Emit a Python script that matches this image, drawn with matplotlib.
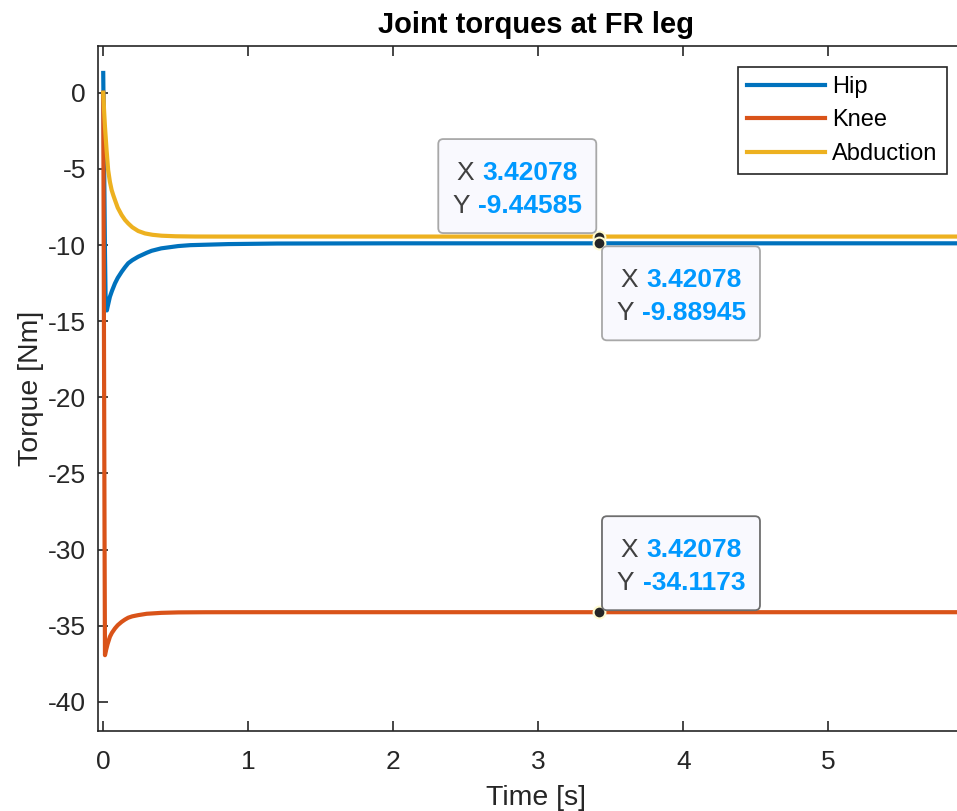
import matplotlib
matplotlib.use('Agg')
import matplotlib.pyplot as plt
import matplotlib.transforms as mtransforms
from matplotlib.patches import FancyBboxPatch
from matplotlib.offsetbox import TextArea, HPacker, VPacker, AnnotationBbox

plt.rcParams['font.family'] = ['Liberation Sans', 'DejaVu Sans']
plt.rcParams['axes.unicode_minus'] = False

# Hip torque
hip_t = [0, 0.004, 0.008, 0.012, 0.016, 0.02, 0.025, 0.03, 0.046, 0.06, 0.081, 0.1,
         0.127, 0.15, 0.172, 0.2, 0.241, 0.3, 0.334, 0.4, 0.517, 0.6, 0.862, 1.2, 2.0,
         3.42078, 6.0]
hip_y = [1.3, -2.5, -6.5, -10.5, -13.3, -14.1, -14.3, -14.07, -13.4, -13.02, -12.52, -12.16,
         -11.76, -11.46, -11.2, -11.0, -10.77, -10.51, -10.38, -10.22, -10.07, -10.01, -9.94,
         -9.904, -9.89, -9.88945, -9.889]

# Knee torque
knee_t = [0, 0.003, 0.006, 0.009, 0.012, 0.016, 0.02, 0.03, 0.046, 0.06, 0.081, 0.1,
          0.127, 0.15, 0.172, 0.2, 0.241, 0.3, 0.334, 0.4, 0.517, 0.7, 0.862, 1.2, 2.0,
          3.42078, 6.0]
knee_y = [0, -9, -19, -29, -36.94, -36.76, -36.59, -36.21, -35.73, -35.47, -35.18, -34.97,
          -34.75, -34.6, -34.48, -34.39, -34.31, -34.22, -34.2, -34.16, -34.13, -34.12, -34.118,
          -34.117, -34.117, -34.1173, -34.117]

# Abduction torque
abd_t = [0, 0.006, 0.012, 0.023, 0.034, 0.046, 0.058, 0.07, 0.081, 0.1, 0.127, 0.15,
         0.172, 0.2, 0.241, 0.288, 0.34, 0.403, 0.5, 0.632, 0.8, 1.2, 2.0, 3.42078, 6.0]
abd_y = [0, -1.2, -2.23, -3.76, -5.08, -5.85, -6.39, -6.75, -7.05, -7.55, -8.03, -8.35,
         -8.58, -8.83, -9.08, -9.24, -9.33, -9.39, -9.427, -9.443, -9.446, -9.446, -9.446,
         -9.44585, -9.446]

series_names = ['Hip', 'Knee', 'Abduction']
series_colors = ['#0072BD', '#D95319', '#EDB120']

# data tips
tip_x = 3.42078
tip_y = [-9.44585, -9.88945, -34.1173]
tip_labels = ['3.42078', '-9.44585', '-9.88945', '-34.1173']

W, H = 957, 811
fig = plt.figure(figsize=(W / 100, H / 100), dpi=100)
ax = fig.add_axes([98.3 / W, (H - 730.7) / H, (973.3 - 98.3) / W, (730.7 - 45.7) / H])

ax.plot(hip_t, hip_y, color=series_colors[0], lw=3, label=series_names[0])
ax.plot(knee_t, knee_y, color=series_colors[1], lw=3, label=series_names[1])
ax.plot(abd_t, abd_y, color=series_colors[2], lw=3, label=series_names[2])

ax.set_xlim(-0.034, 6.0)
ax.set_ylim(-41.9, 3.09)
ax.set_xticks([0, 1, 2, 3, 4, 5])
ax.set_yticks([-40, -35, -30, -25, -20, -15, -10, -5, 0])
ax.tick_params(direction='in', top=True, right=True, length=7, width=1.2,
               labelsize=19, colors='#262626')
ax.tick_params(axis='x', pad=14)
ax.tick_params(axis='y', pad=9)
for s in ax.spines.values():
    s.set_color('#262626')
    s.set_linewidth(1.2)

ax.set_title('Joint torques at FR leg', fontsize=21, fontweight='bold', pad=9)
ax.set_xlabel('Time [s]', fontsize=20.5, color='#262626', labelpad=8)
ax.set_ylabel('Torque [Nm]', fontsize=20.5, color='#262626', labelpad=3)

leg = ax.legend(loc='upper right', bbox_to_anchor=(947 / W, 1 - 66.7 / H),
                bbox_transform=fig.transFigure, fontsize=17, handlelength=3.3,
                handletextpad=0.3, labelspacing=0.48, borderpad=0.4,
                fancybox=False, framealpha=1, borderaxespad=0)
leg.get_frame().set_edgecolor('#262626')
leg.get_frame().set_linewidth(1.2)

# data tip boxes: (box offset x0, y0 in pixels from marker, edge colour)
box_w, box_h = 158, 94
tip_boxes = [(-161, 3.5, '#a8a8a8'), (2.7, -97, '#a8a8a8'), (2.7, 2, '#6e6e6e')]
for i, ty in enumerate(tip_y):
    ax.plot(tip_x, ty, 'o', ms=8.5, color='#262626', mec='#fffbd0', mew=1.5, zorder=5)
for i, ty in enumerate(tip_y):
    bx, by, ec = tip_boxes[i]
    tr = mtransforms.Affine2D() + mtransforms.ScaledTranslation(tip_x, ty, ax.transData)
    box = FancyBboxPatch((bx, by), box_w, box_h, boxstyle='round,pad=0,rounding_size=5',
                         transform=tr, facecolor='#f9f9fe', edgecolor=ec, lw=1.3,
                         clip_on=False, zorder=6)
    ax.add_patch(box)
    lab = dict(color='#404040', fontsize=19)
    val = dict(color='#0099ff', fontsize=19, fontweight='bold')
    row1 = HPacker(children=[TextArea('X', textprops=lab), TextArea(tip_labels[0], textprops=val)],
                   align='baseline', pad=0, sep=6)
    row2 = HPacker(children=[TextArea('Y', textprops=lab), TextArea(tip_labels[i + 1], textprops=val)],
                   align='baseline', pad=0, sep=6)
    packed = VPacker(children=[row1, row2], align='center', pad=0, sep=6.5)
    cx = (bx + box_w / 2) * 0.72
    cy = (by + box_h / 2 - 3) * 0.72
    ab = AnnotationBbox(packed, (tip_x, ty), xycoords='data', xybox=(cx, cy),
                        boxcoords='offset points', frameon=False, box_alignment=(0.5, 0.5),
                        zorder=7)
    ax.add_artist(ab)

fig.savefig('out.png', dpi=100)
